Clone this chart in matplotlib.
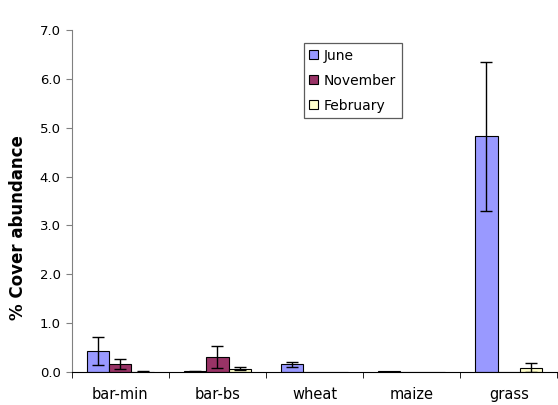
import numpy as np
import matplotlib.pyplot as plt

plt.rcParams['font.family'] = ['DejaVu Sans']

categories = ['bar-min', 'bar-bs', 'wheat', 'maize', 'grass']
june = [0.43, 0.02, 0.16, 0.02, 4.82]
june_err = [0.28, 0.01, 0.05, np.nan, 1.52]
november = [0.16, 0.31, 0.0, 0.0, 0.0]
november_err = [0.10, 0.22, np.nan, np.nan, np.nan]
february = [0.01, 0.07, 0.0, 0.0, 0.09]
february_err = [0.01, 0.03, np.nan, np.nan, 0.09]

fig = plt.figure(figsize=(5.58, 4.05), dpi=100)
ax = fig.add_axes([0.1285, 0.0815, 0.8702, 0.8445])

index = np.arange(len(categories))
bar_width = 0.23
error_config = {'ecolor': 'black', 'elinewidth': 1, 'capsize': 4, 'capthick': 1}

ax.bar(index - bar_width, june, bar_width, color='#9999FF', edgecolor='black',
       linewidth=0.8, yerr=june_err, error_kw=error_config, label='June')
ax.bar(index, november, bar_width, color='#993366', edgecolor='black',
       linewidth=0.8, yerr=november_err, error_kw=error_config, label='November')
ax.bar(index + bar_width, february, bar_width, color='#FFFFCC', edgecolor='black',
       linewidth=0.8, yerr=february_err, error_kw=error_config, label='February')

ax.set_xlim(-0.5, len(categories) - 0.5)
ax.set_ylim(0, 7)
yt = np.arange(0, 7.5, 1.0)
ax.set_yticks(yt)
ax.set_yticklabels(['%.1f' % v for v in yt], fontsize=9.5)
ax.set_xticks(index)
ax.set_xticklabels(categories, fontsize=10.5)
ax.set_xticks(np.arange(-0.5, len(categories), 1.0), minor=True)
ax.tick_params(axis='x', which='major', length=0, pad=11)
ax.tick_params(axis='x', which='minor', length=4, direction='out', color='black')
ax.tick_params(axis='y', length=4, direction='out', color='#808080', pad=4)
ax.spines['top'].set_visible(False)
ax.spines['right'].set_visible(False)
ax.spines['left'].set_color('#808080')
ax.spines['bottom'].set_color('black')

fig.text(18 / 558, 1 - 228 / 405, '% Cover abundance', rotation=90,
         ha='center', va='center', fontsize=12, fontweight='bold')

leg = ax.legend(loc='upper left', bbox_to_anchor=(0.478, 0.962), fontsize=10,
                frameon=True, fancybox=False, edgecolor='#333333',
                handlelength=0.6, handleheight=0.6, handletextpad=0.45,
                borderpad=0.4, labelspacing=0.8, borderaxespad=0)
leg.get_frame().set_linewidth(0.9)

plt.savefig('out.png', dpi=100)
